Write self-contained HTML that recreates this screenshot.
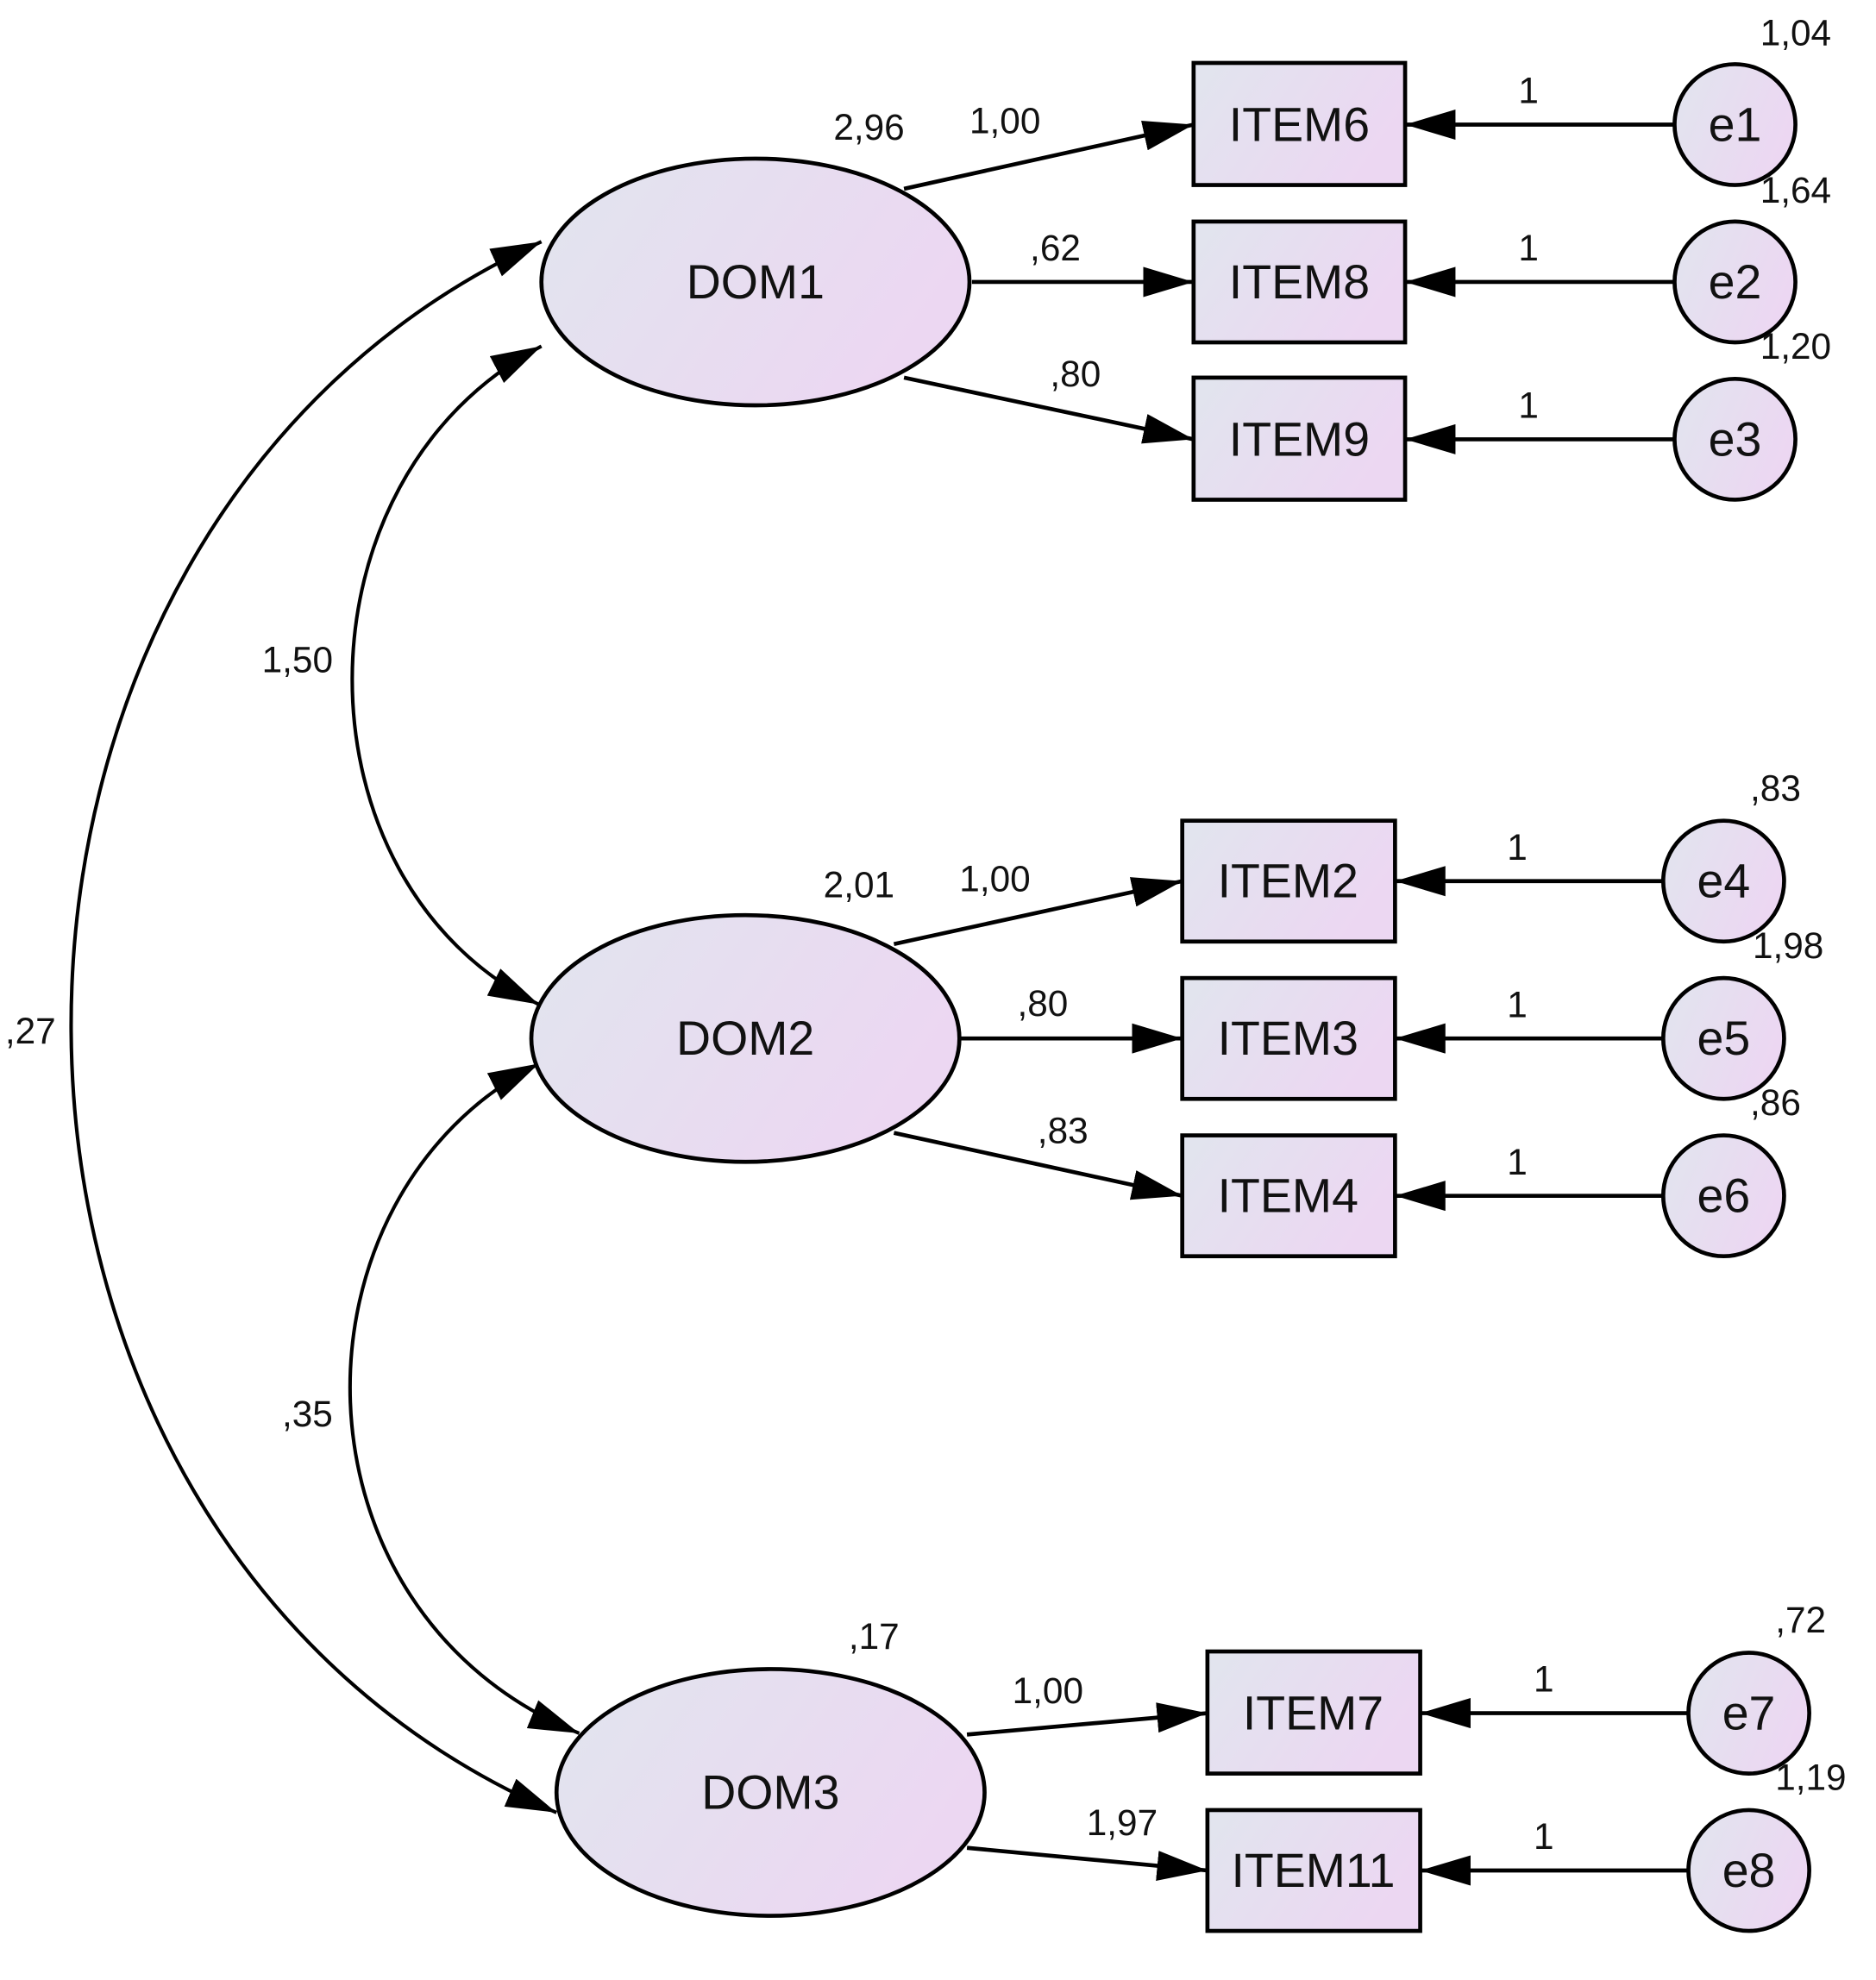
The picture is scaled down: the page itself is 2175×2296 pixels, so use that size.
<!DOCTYPE html>
<html><head><meta charset="utf-8"><style>
html,body{margin:0;padding:0;background:#fff;}
svg{display:block;}
text{font-family:"Liberation Sans",Arial,sans-serif;fill:#111;}
.s{font-size:29px;}
.n{font-size:38px;text-anchor:middle;dominant-baseline:central;}
</style></head><body>
<svg width="2175" height="2296" viewBox="0 0 1490 1573" preserveAspectRatio="none" xmlns="http://www.w3.org/2000/svg">
<defs>
<linearGradient id="g" x1="0" y1="0" x2="1" y2="0.4">
<stop offset="0" stop-color="#e1e5ee"/><stop offset="1" stop-color="#ecd7f2"/></linearGradient>
<marker id="a" viewBox="0 0 40 24" refX="40" refY="12" markerWidth="40" markerHeight="24" markerUnits="userSpaceOnUse" orient="auto-start-reverse">
<path d="M0,0 L40,12 L0,24 Z" fill="#000"/></marker>
</defs>
<g fill="none" stroke="#000" stroke-width="2.8">
<path d="M430,192 C-70,420 -70,1220 442,1440" marker-start="url(#a)" marker-end="url(#a)"/>
<path d="M430,275 C230,380 230,700 428,798" marker-start="url(#a)" marker-end="url(#a)"/>
<path d="M428,845 C223,950 223,1280 460,1377" marker-start="url(#a)" marker-end="url(#a)"/>
<g stroke-width="3.2">
<line x1="718" y1="150" x2="948" y2="99" marker-end="url(#a)"/>
<line x1="772" y1="224" x2="948" y2="224" marker-end="url(#a)"/>
<line x1="718" y1="300" x2="948" y2="349" marker-end="url(#a)"/>
<line x1="710" y1="750" x2="939" y2="700" marker-end="url(#a)"/>
<line x1="763" y1="825" x2="939" y2="825" marker-end="url(#a)"/>
<line x1="710" y1="900" x2="939" y2="950" marker-end="url(#a)"/>
<line x1="768" y1="1378" x2="959" y2="1361" marker-end="url(#a)"/>
<line x1="768" y1="1468" x2="959" y2="1486" marker-end="url(#a)"/>
<line x1="1330" y1="99" x2="1116" y2="99" marker-end="url(#a)"/>
<line x1="1330" y1="224" x2="1116" y2="224" marker-end="url(#a)"/>
<line x1="1330" y1="349" x2="1116" y2="349" marker-end="url(#a)"/>
<line x1="1321" y1="700" x2="1108" y2="700" marker-end="url(#a)"/>
<line x1="1321" y1="825" x2="1108" y2="825" marker-end="url(#a)"/>
<line x1="1321" y1="950" x2="1108" y2="950" marker-end="url(#a)"/>
<line x1="1341" y1="1361" x2="1128" y2="1361" marker-end="url(#a)"/>
<line x1="1341" y1="1486" x2="1128" y2="1486" marker-end="url(#a)"/>
</g>
</g>
<g fill="url(#g)" stroke="#000" stroke-width="3.2">
<ellipse cx="600" cy="224" rx="170" ry="98"/>
<ellipse cx="592" cy="825" rx="170" ry="98"/>
<ellipse cx="612" cy="1424" rx="170" ry="98"/>
<rect x="948" y="50" width="168" height="97"/>
<rect x="948" y="176" width="168" height="96"/>
<rect x="948" y="300" width="168" height="97"/>
<rect x="939" y="652" width="169" height="96"/>
<rect x="939" y="777" width="169" height="96"/>
<rect x="939" y="902" width="169" height="96"/>
<rect x="959" y="1312" width="169" height="97"/>
<rect x="959" y="1438" width="169" height="96"/>
<circle cx="1378" cy="99" r="48"/>
<circle cx="1378" cy="224" r="48"/>
<circle cx="1378" cy="349" r="48"/>
<circle cx="1369" cy="700" r="48"/>
<circle cx="1369" cy="825" r="48"/>
<circle cx="1369" cy="950" r="48"/>
<circle cx="1389" cy="1361" r="48"/>
<circle cx="1389" cy="1486" r="48"/>
</g>
<text class="n" x="600" y="224">DOM1</text>
<text class="n" x="592" y="825">DOM2</text>
<text class="n" x="612" y="1424">DOM3</text>
<text class="n" x="1032" y="99">ITEM6</text>
<text class="n" x="1032" y="224">ITEM8</text>
<text class="n" x="1032" y="349">ITEM9</text>
<text class="n" x="1023" y="700">ITEM2</text>
<text class="n" x="1023" y="825">ITEM3</text>
<text class="n" x="1023" y="950">ITEM4</text>
<text class="n" x="1043" y="1361">ITEM7</text>
<text class="n" x="1043" y="1486">ITEM11</text>
<text class="n" x="1378" y="99">e1</text>
<text class="n" x="1378" y="224">e2</text>
<text class="n" x="1378" y="349">e3</text>
<text class="n" x="1369" y="700">e4</text>
<text class="n" x="1369" y="825">e5</text>
<text class="n" x="1369" y="950">e6</text>
<text class="n" x="1389" y="1361">e7</text>
<text class="n" x="1389" y="1486">e8</text>
<g class="s">
<text x="1398" y="36">1,04</text>
<text x="1398" y="161">1,64</text>
<text x="1398" y="285">1,20</text>
<text x="1390" y="636">,83</text>
<text x="1392" y="761">1,98</text>
<text x="1390" y="886">,86</text>
<text x="1410" y="1297">,72</text>
<text x="1410" y="1422">1,19</text>
<text x="1206" y="82">1</text><text x="1206" y="207">1</text><text x="1206" y="332">1</text>
<text x="1197" y="683">1</text><text x="1197" y="808">1</text><text x="1197" y="933">1</text>
<text x="1218" y="1344">1</text><text x="1218" y="1469">1</text>
<text x="662" y="111">2,96</text>
<text x="770" y="106">1,00</text>
<text x="818" y="207">,62</text>
<text x="834" y="307">,80</text>
<text x="654" y="713">2,01</text>
<text x="762" y="708">1,00</text>
<text x="808" y="807">,80</text>
<text x="824" y="908">,83</text>
<text x="674" y="1310">,17</text>
<text x="804" y="1353">1,00</text>
<text x="863" y="1458">1,97</text>
<text x="208" y="534">1,50</text>
<text x="4" y="829">,27</text>
<text x="224" y="1133">,35</text>
</g>
</svg>
</body></html>
